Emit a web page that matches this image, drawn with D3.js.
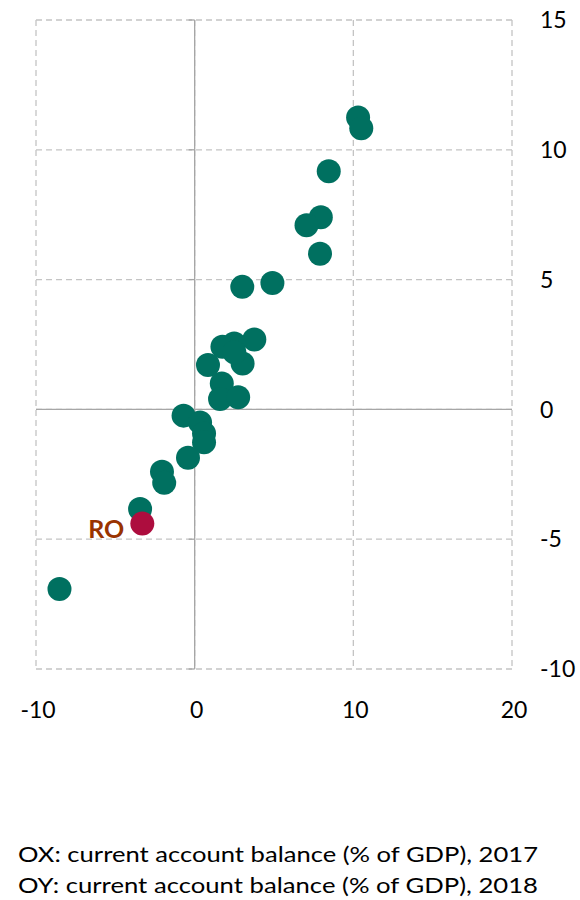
<!DOCTYPE html>
<html>
<head>
<meta charset="utf-8">
<script src="https://cdn.jsdelivr.net/npm/d3@7"></script>
<style>
  body { margin: 0; background: #fff; }
  text { font-family: Lato, "Open Sans", sans-serif; }
</style>
</head>
<body>
<div id="chart"></div>
<script>
// current account balance, % of GDP (x: 2017, y: 2018)
const ca2017 = [10.3, 10.5, 8.45, 7.95, 7.05, 7.9, 3.0, 4.9, 3.76, 2.49, 1.75, 3.02, 2.5,
                0.84, 1.71, 1.6, 2.74, -0.7, 0.34, 0.59, 0.59, -0.42, -2.06, -1.92, -3.44, -8.52];
const ca2018 = [11.24, 10.83, 9.17, 7.4, 7.09, 6.0, 4.72, 4.87, 2.69, 2.54, 2.41, 1.77, 2.2,
                1.71, 1.0, 0.4, 0.47, -0.24, -0.5, -0.93, -1.27, -1.86, -2.4, -2.83, -3.84, -6.92];
const roLabel = 'RO';
const ro2017 = -3.3;
const ro2018 = -4.4;

const xTicks = [-10, 0, 10, 20];
const yTicks = [-10, -5, 0, 5, 10, 15];

const width = 580;
const height = 900;
const margin = { top: 20, bottom: 231, left: 36, right: 68 };

const svg = d3.select('#chart')
    .append('svg')
    .attr('width', width)
    .attr('height', height);

const xScale = d3.scaleLinear()
    .domain([-10, 20])
    .range([margin.left, width - margin.right]);
const yScale = d3.scaleLinear()
    .domain([-10, 15])
    .range([height - margin.bottom, margin.top]);

// dashed grid (including outer frame)
svg.append('g')
    .selectAll('line')
    .data(xTicks)
    .enter()
    .append('line')
    .attr('x1', d => xScale(d)).attr('x2', d => xScale(d))
    .attr('y1', yScale(15)).attr('y2', yScale(-10))
    .attr('stroke', '#c4c4c4')
    .attr('stroke-width', 1.3)
    .attr('stroke-dasharray', '6,4');

svg.append('g')
    .selectAll('line')
    .data(yTicks)
    .enter()
    .append('line')
    .attr('x1', xScale(-10)).attr('x2', xScale(20))
    .attr('y1', d => yScale(d)).attr('y2', d => yScale(d))
    .attr('stroke', '#c4c4c4')
    .attr('stroke-width', 1.3)
    .attr('stroke-dasharray', '6,4');

// zero axes
svg.append('line')
    .attr('x1', xScale(0)).attr('x2', xScale(0))
    .attr('y1', yScale(15)).attr('y2', yScale(-10))
    .attr('stroke', '#a6a6a6').attr('stroke-width', 1.3);
svg.append('line')
    .attr('x1', xScale(-10)).attr('x2', xScale(20))
    .attr('y1', yScale(0)).attr('y2', yScale(0))
    .attr('stroke', '#a6a6a6').attr('stroke-width', 1.3);

// small ticks on the vertical axis
svg.append('g')
    .selectAll('line')
    .data(yTicks)
    .enter()
    .append('line')
    .attr('x1', xScale(0) - 6).attr('x2', xScale(0))
    .attr('y1', d => yScale(d)).attr('y2', d => yScale(d))
    .attr('stroke', '#a6a6a6').attr('stroke-width', 1.3);

// tick labels
svg.append('g')
    .selectAll('text')
    .data(yTicks)
    .enter()
    .append('text')
    .attr('x', 540)
    .attr('y', d => yScale(d))
    .attr('dy', '0.36em')
    .style('font-size', '23px')
    .text(d => d);

svg.append('g')
    .selectAll('text')
    .data(xTicks)
    .enter()
    .append('text')
    .attr('x', d => xScale(d) + 2)
    .attr('y', 718)
    .style('font-size', '23px')
    .style('text-anchor', 'middle')
    .text(d => d);

// points
const pts = ca2017.map((x, i) => ({ x: x, y: ca2018[i] }));
svg.append('g')
    .selectAll('circle')
    .data(pts)
    .enter()
    .append('circle')
    .attr('cx', d => xScale(d.x))
    .attr('cy', d => yScale(d.y))
    .attr('r', 12)
    .style('fill', '#007060');

svg.append('circle')
    .attr('cx', xScale(ro2017))
    .attr('cy', yScale(ro2018))
    .attr('r', 12)
    .style('fill', '#ad0d3e');

svg.append('text')
    .attr('x', xScale(ro2017) - 18)
    .attr('y', yScale(ro2018) + 14)
    .style('font-size', '25px')
    .style('font-weight', 'bold')
    .style('fill', '#993300')
    .style('text-anchor', 'end')
    .text(roLabel);

// notes
const notes = ['OX: current account balance (% of GDP), 2017',
               'OY: current account balance (% of GDP), 2018'];
svg.append('g')
    .selectAll('text')
    .data(notes)
    .enter()
    .append('text')
    .attr('x', 18)
    .attr('y', (d, i) => 862 + i * 31)
    .style('font-size', '22px')
    .attr('textLength', 520)
    .attr('lengthAdjust', 'spacingAndGlyphs')
    .text(d => d);
</script>
</body>
</html>
